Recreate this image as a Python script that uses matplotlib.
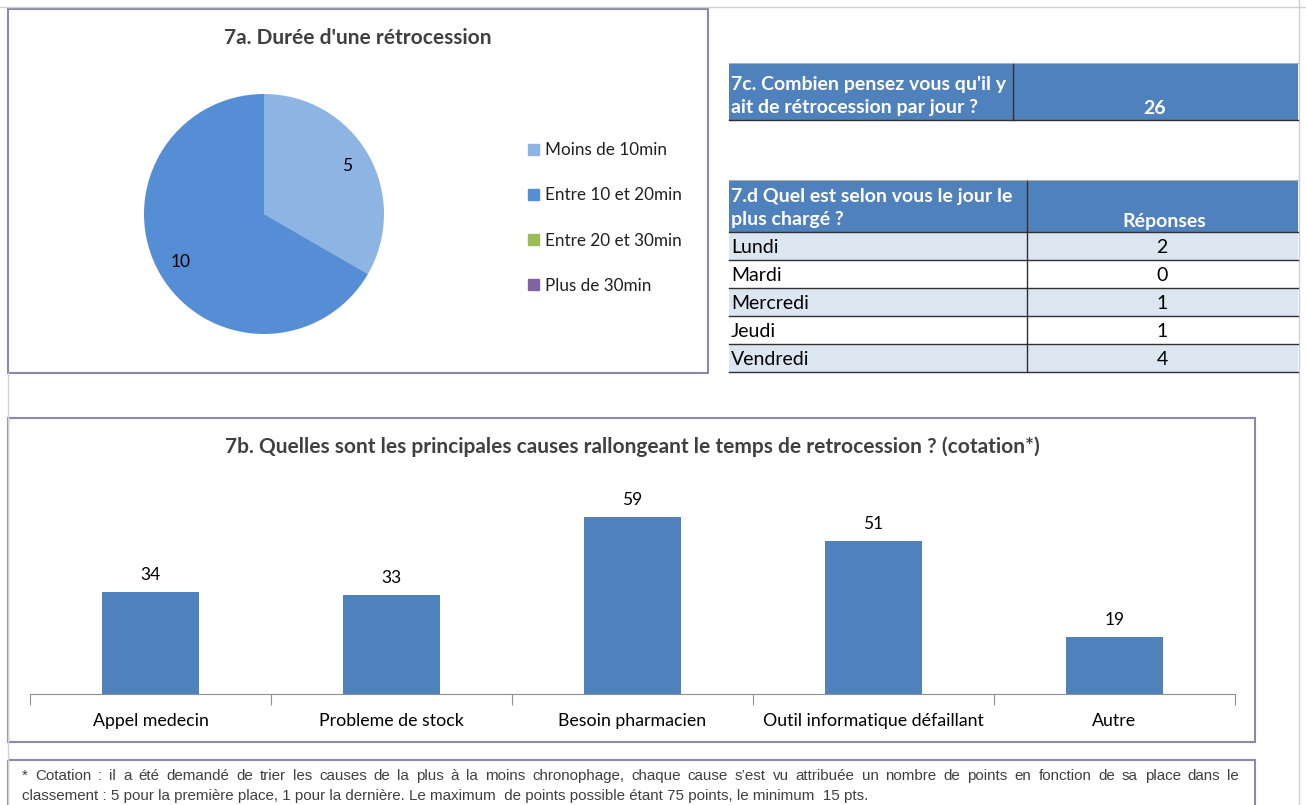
import matplotlib.pyplot as plt
from matplotlib.patches import Rectangle, Patch

# données
duree_labels = ['Moins de 10min', 'Entre 10 et 20min', 'Entre 20 et 30min', 'Plus de 30min']
duree_values = [5, 10, 0, 0]
duree_colors = ['#8EB4E3', '#558ED5', '#9BBB59', '#8064A2']

causes = ['Appel medecin', 'Probleme de stock', 'Besoin pharmacien',
          'Outil informatique défaillant', 'Autre']
cotation = [34, 33, 59, 51, 19]

q7c = "7c. Combien pensez vous qu'il y\nait de rétrocession par jour ?"
rep7c = 26

jours = ['Lundi', 'Mardi', 'Mercredi', 'Jeudi', 'Vendredi']
reponses = [2, 0, 1, 1, 4]

note_l1 = ("* Cotation : il a été demandé de trier les causes de la plus à la moins chronophage, "
           "chaque cause s’est vu attribuée un nombre de points en fonction de sa place dans le")
note_l2 = ("classement : 5 pour la première place, 1 pour la dernière. Le maximum  de points possible "
           "étant 75 points, le minimum  15 pts.")

plt.rcParams['font.family'] = ['Lato', 'DejaVu Sans']
W, H = 1306, 805
fig = plt.figure(figsize=(W / 100, H / 100), dpi=100)


def axes_px(x0, y0, x1, y1, **kw):
    return fig.add_axes([x0 / W, 1 - y1 / H, (x1 - x0) / W, (y1 - y0) / H], **kw)


# fond en pixels pour cadres et tableaux
bg = axes_px(0, 0, W, H)
bg.set_xlim(0, W)
bg.set_ylim(H, 0)
bg.axis('off')
bg.plot([0, W], [7, 7], color='#d0d0d0', lw=1)
bg.plot([1299, 1299], [0, H], color='#d0d0d0', lw=1)
bg.plot([8, 8], [373, H], color='#d0d0d0', lw=1)

edge = '#8a8aa6'
bg.add_patch(Rectangle((8, 9), 700, 364, fill=False, ec=edge, lw=1.5))
bg.add_patch(Rectangle((8, 418), 1247, 324, fill=False, ec=edge, lw=1.5))
bg.add_patch(Rectangle((8, 760), 1247, 60, fill=False, ec=edge, lw=1.5))

bg.text(358, 38, "7a. Durée d'une rétrocession", ha='center', va='center',
        fontsize=15, fontweight='bold', color='#404040')
bg.text(632, 447, "7b. Quelles sont les principales causes rallongeant le temps de retrocession ? (cotation*)",
        ha='center', va='center', fontsize=15, fontweight='bold', color='#404040')

# tableau 7c
head = '#4F81BD'
line = '#303030'
fs_t = 14
bg.add_patch(Rectangle((729, 63), 569, 57, fc=head, ec='none'))
bg.plot([729, 1298], [120, 120], color=line, lw=1)
bg.plot([1013, 1013], [63, 120], color=line, lw=1)
bg.plot([729, 1298], [63, 63], color='#b0b0b0', lw=0.8)
bg.text(731, 96, q7c, ha='left', va='center', fontsize=fs_t, fontweight='bold',
        color='white', linespacing=1.45)
bg.text(1155, 108, str(rep7c), ha='center', va='center', fontsize=fs_t,
        fontweight='bold', color='white')

# tableau 7.d
t_top, h_head, h_row = 180, 52, 28
bg.add_patch(Rectangle((729, t_top), 569, h_head, fc=head, ec='none'))
bg.text(731, t_top + 28, "7.d Quel est selon vous le jour le\nplus chargé ?", ha='left',
        va='center', fontsize=fs_t, fontweight='bold', color='white', linespacing=1.45)
bg.text(1164, t_top + 41, 'Réponses', ha='center', va='center', fontsize=fs_t,
        fontweight='bold', color='white')
for i, (j, r) in enumerate(zip(jours, reponses)):
    y0 = t_top + h_head + i * h_row
    bg.add_patch(Rectangle((729, y0), 569, h_row,
                           fc='#DCE6F1' if i % 2 == 0 else 'white', ec='none'))
    bg.text(731, y0 + h_row / 2 + 1, j, ha='left', va='center', fontsize=fs_t, color='black')
    bg.text(1162, y0 + h_row / 2 + 1, str(r), ha='center', va='center', fontsize=fs_t, color='black')
    bg.plot([729, 1298], [y0, y0], color=line, lw=1)
t_bot = t_top + h_head + len(jours) * h_row
bg.plot([729, 1298], [t_bot, t_bot], color=line, lw=1)
bg.plot([1027, 1027], [t_top, t_bot], color=line, lw=1)
bg.plot([729, 1298], [t_top, t_top], color='#b0b0b0', lw=0.8)

# note de bas de page (1re ligne justifiée)
note_font = dict(fontsize=10.9, color='#404040', family=['Liberation Sans', 'DejaVu Sans'])
renderer = fig.canvas.get_renderer()
words = note_l1.split(' ')
objs = [bg.text(0, 776, w, ha='left', va='center', **note_font) for w in words]
widths = [o.get_window_extent(renderer).width for o in objs]
gap = (1239 - 22 - sum(widths)) / (len(words) - 1)
xpos = 22
for o, w in zip(objs, widths):
    o.set_x(xpos)
    xpos += w + gap
bg.text(22, 796, note_l2, ha='left', va='center', **note_font)

# camembert 7a
ax1 = axes_px(144, 94, 384, 334)
wedges, texts, autotexts = ax1.pie(
    duree_values, colors=duree_colors, startangle=90, counterclock=False,
    autopct=lambda p: '' if p == 0 else f'{p * sum(duree_values) / 100:.0f}',
    pctdistance=0.8, radius=1, textprops={'fontsize': 12.5, 'color': 'black'})
ax1.set_xlim(-1, 1)
ax1.set_ylim(-1, 1)
handles = [Patch(color=c, label=l) for c, l in zip(duree_colors, duree_labels)]
fig.legend(handles=handles, loc='center left', bbox_to_anchor=(513 / W, 1 - 218 / H),
           frameon=False, fontsize=12.3, handlelength=0.6, handleheight=0.6,
           handletextpad=0.35, labelspacing=1.7, labelcolor='#202020')

# histogramme 7b
ax2 = axes_px(30, 484, 1235, 694)
x = range(len(causes))
bars = ax2.bar(x, cotation, width=0.4, color='#4F81BD')
for b, v in zip(bars, cotation):
    ax2.text(b.get_x() + b.get_width() / 2, v + 3, str(v), ha='center', va='bottom',
             fontsize=12.5, color='black')
ax2.set_xlim(-0.5, len(causes) - 0.5)
ax2.set_ylim(0, 70)
ax2.set_yticks([])
for s in ['left', 'right', 'top']:
    ax2.spines[s].set_visible(False)
ax2.spines['bottom'].set_color('#909090')
ax2.set_xticks([i - 0.5 for i in range(len(causes) + 1)], minor=False)
ax2.set_xticklabels([])
ax2.tick_params(axis='x', length=8, color='#909090', direction='out')
ax2.set_xticks(list(x), minor=True)
ax2.set_xticklabels(causes, minor=True)
ax2.tick_params(axis='x', which='minor', length=0, pad=14, labelsize=12.8, labelcolor='black')

fig.savefig('out.png', dpi=100)
